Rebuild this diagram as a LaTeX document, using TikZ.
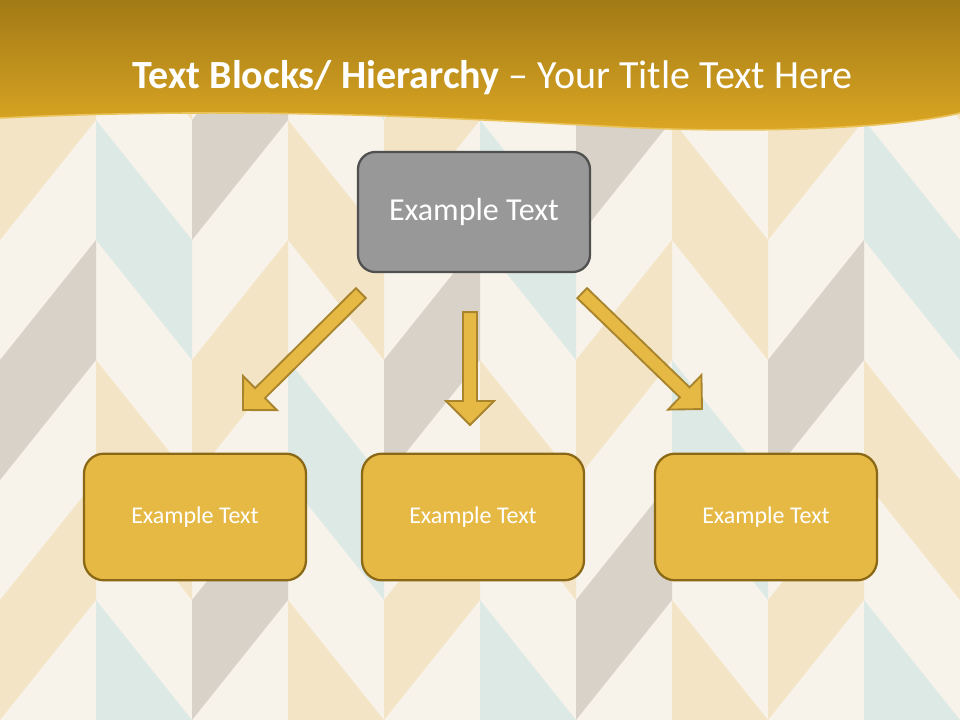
\documentclass[tikz,border=0pt]{standalone}
\usepackage{fontspec}
\setmainfont{Carlito}
\usepackage{tikz}
\usetikzlibrary{calc, positioning}
\definecolor{paper}{HTML}{F7F3EA}
\definecolor{tanc}{HTML}{F4E4C6}
\definecolor{bluec}{HTML}{DDE9E4}
\definecolor{grayc}{HTML}{D8D2C9}
\definecolor{goldtop}{HTML}{A27A16}
\definecolor{goldbot}{HTML}{DCA723}
\definecolor{goldrim}{HTML}{E9C35A}
\definecolor{boxfill}{HTML}{E6B945}
\definecolor{boxline}{HTML}{8A6816}
\definecolor{arrline}{HTML}{A8842C}
\definecolor{headfill}{HTML}{989898}
\definecolor{headline}{HTML}{505050}
\tikzset{
  headbox/.style={draw=headline, fill=headfill, line width=1.7pt, rounded corners=13pt,
    minimum width=174pt, minimum height=90pt, text=white, font=\fontsize{24}{28}\selectfont},
  itembox/.style={draw=boxline, fill=boxfill, line width=1.7pt, rounded corners=15pt,
    minimum width=166.5pt, minimum height=95pt, text=white, font=\fontsize{18}{22}\selectfont},
  fatarrow/.style={draw=arrline, fill=boxfill, line width=1.4pt, line join=miter}
}
\newcommand{\blockarrow}[2]{%
  \path ($(#2)!18pt!(#1)$) coordinate (hb);
  \draw[fatarrow] ($(#1)!5.25pt!90:(#2)$) -- ($(hb)!5.25pt!90:(#2)$) -- ($(hb)!18pt!90:(#2)$)
    -- (#2) -- ($(hb)!18pt!-90:(#2)$) -- ($(hb)!5.25pt!-90:(#2)$) -- ($(#1)!5.25pt!-90:(#2)$) -- cycle;
}

\begin{document}
\begin{tikzpicture}[x=0.75pt, y=-0.75pt]
\useasboundingbox (0,0) rectangle (960,720);
\fill[paper] (0,0) rectangle (960,720);
\begin{scope}
\clip (0,0) rectangle (960,720);
\foreach \j/\ca/\cb in {0/tanc/grayc, 1/bluec/tanc, 2/grayc/tanc, 3/tanc/bluec, 4/tanc/grayc,
                        5/bluec/tanc, 6/grayc/tanc, 7/tanc/bluec, 8/tanc/grayc, 9/bluec/tanc}{
  \pgfmathsetmacro{\sh}{120*(2*mod(\j,2)-1)}
  \foreach \k/\col in {-1/\cb, 1/\ca, 3/\cb, 5/\ca}
    \fill[fill=\col] (\j*96,\k*120) -- (\j*96+96,\k*120+\sh) -- (\j*96+96,\k*120+\sh+120)
      -- (\j*96,\k*120+120) -- cycle;
}
\end{scope}
\shade[top color=goldtop, bottom color=goldbot] (0,0) -- (960,0) -- (960,113)
  .. controls (900,128) and (760,134) .. (620,127) .. controls (450,118) and (250,106) .. (0,118) -- cycle;
\draw[goldrim, line width=1.2pt] (960,113)
  .. controls (900,128) and (760,134) .. (620,127) .. controls (450,118) and (250,106) .. (0,118);
\node[anchor=base, text=white] at (492.5,89) (title)
  {\fontsize{30}{35}\selectfont\textbf{Text Blocks/ Hierarchy} – Your Title Text Here};

\node[headbox] at (474,212) (top) {Example Text};
\node[itembox] at (195,517) (one) {Example Text};
\node[itembox] at (473,517) (two) {Example Text};
\node[itembox] at (766,517) (three) {Example Text};

\coordinate (s1) at ([shift={(4,20)}]top.south west);
\coordinate (s2) at ([shift={(-4,39)}]top.south);
\coordinate (s3) at ([shift={(-9,20)}]top.south east);
\coordinate (t1) at ([shift={(48,-42.5)}]one.north);
\coordinate (t2) at ([shift={(-3,-27.5)}]two.north);
\coordinate (t3) at ([shift={(-64,-43.5)}]three.north);
\blockarrow{s1}{t1}
\blockarrow{s2}{t2}
\blockarrow{s3}{t3}
\end{tikzpicture}
\end{document}
